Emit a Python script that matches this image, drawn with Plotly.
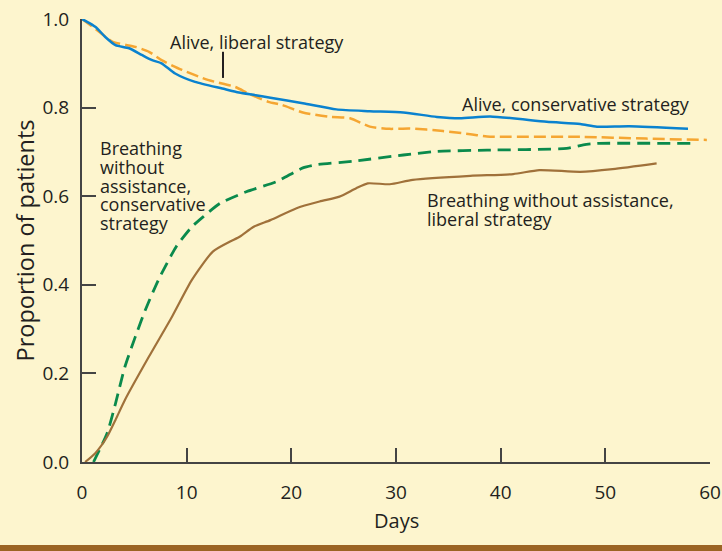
import plotly.graph_objects as go

# ---- data ----
alive_cons_x = [0, 1.3, 2.2, 3.2, 4.5, 5.7, 6.7, 7.6, 8.9, 10.8, 13.4, 15.0, 16.6, 18.0, 21.1, 24.3,
                27.5, 30.7, 33.9, 36.1, 39.0, 44.4, 47.6, 49.2, 52.3, 57.9]
alive_cons_y = [1.0, 0.982, 0.960, 0.941, 0.934, 0.919, 0.907, 0.900, 0.877, 0.858, 0.843, 0.834, 0.828, 0.822,
                0.810, 0.796, 0.792, 0.789, 0.779, 0.776, 0.780, 0.768, 0.763, 0.757, 0.758, 0.752]

alive_lib_x = [0, 1.6, 2.9, 5.1, 6.4, 7.6, 9.55, 12.1, 14.6, 15.9, 17.8, 19.1, 21.1, 23.7, 25.6, 27.5,
               29.4, 31.3, 34.5, 37.1, 38.7, 47.6, 53.9, 59.7]
alive_lib_y = [1.0, 0.972, 0.949, 0.937, 0.926, 0.907, 0.885, 0.862, 0.847, 0.832, 0.813, 0.806, 0.789,
               0.779, 0.776, 0.757, 0.752, 0.753, 0.747, 0.740, 0.735, 0.734, 0.730, 0.727]

breath_cons_x = [1.1, 2.4, 3.2, 4.1, 5.1, 6.05, 7.3, 9.0, 10.5, 11.6, 13.2, 15.7, 18.6, 21.1, 22.4, 25.9,
                 30.7, 33.9, 38.7, 46.3, 47.9, 49.2, 58.4]
breath_cons_y = [0.0, 0.065, 0.132, 0.215, 0.283, 0.343, 0.411, 0.486, 0.531, 0.554, 0.584, 0.610, 0.633,
                 0.664, 0.671, 0.679, 0.693, 0.701, 0.704, 0.708, 0.716, 0.719, 0.719]

breath_lib_x = [0.3, 1.27, 2.4, 3.2, 4.1, 6.4, 8.6, 10.5, 12.5, 14.1, 15.1, 16.4, 18.0, 20.5, 22.7, 24.6,
                26.2, 27.3, 29.4, 31.6, 37.1, 41.2, 43.7, 47.6, 50.7, 54.9]
breath_lib_y = [0.0, 0.020, 0.057, 0.095, 0.140, 0.238, 0.328, 0.411, 0.475, 0.497, 0.509, 0.531, 0.546,
                0.573, 0.588, 0.599, 0.618, 0.629, 0.627, 0.637, 0.646, 0.650, 0.659, 0.655, 0.661, 0.674]

x_ticks = [0, 10, 20, 30, 40, 50, 60]
y_ticks = [0.0, 0.2, 0.4, 0.6, 0.8, 1.0]
y_tick_labels = ["0.0", "0.2", "0.4", "0.6", "0.8", "1.0"]

# curve labels: list of lines, anchor (left edge, first-line centre) in data units
label_lines = [
    ["Alive, liberal strategy"],
    ["Alive, conservative strategy"],
    ["Breathing", "without", "assistance,", "conservative", "strategy"],
    ["Breathing without assistance,", "liberal strategy"],
]
label_x = [8.2, 36.1, 1.5, 32.8]
label_y = [0.948, 0.808, 0.708, 0.591]
LINE_GAP = 18.6  # px between lines

BG = "#FDF5CE"
TXT = "#231F20"
FONT = "Open Sans"

fig = go.Figure()
fig.add_trace(go.Scatter(x=alive_lib_x, y=alive_lib_y, mode="lines",
                         line=dict(color="#F5A632", width=2.5, dash="12px,5px", shape="spline", smoothing=0.6),
                         name="Alive, liberal strategy"))
fig.add_trace(go.Scatter(x=alive_cons_x, y=alive_cons_y, mode="lines",
                         line=dict(color="#0A82CF", width=2.5, shape="spline", smoothing=0.6),
                         name="Alive, conservative strategy"))
fig.add_trace(go.Scatter(x=breath_cons_x, y=breath_cons_y, mode="lines",
                         line=dict(color="#0A8A4C", width=2.8, dash="13px,7px", shape="spline", smoothing=0.6),
                         name="Breathing without assistance, conservative strategy"))
fig.add_trace(go.Scatter(x=breath_lib_x, y=breath_lib_y, mode="lines",
                         line=dict(color="#A0713A", width=2.2, shape="spline", smoothing=0.6),
                         name="Breathing without assistance, liberal strategy"))

for lines, xx, yy in zip(label_lines, label_x, label_y):
    for i, t in enumerate(lines):
        fig.add_annotation(x=xx, y=yy, yshift=-i * LINE_GAP, text=t, showarrow=False,
                           xanchor="left", yanchor="middle", align="left",
                           font=dict(family=FONT, size=18, color=TXT))

# leader line for "Alive, liberal strategy"
fig.add_shape(type="line", x0=13.47, x1=13.47, y0=0.867, y1=0.926,
              line=dict(color="#231F20", width=2))

# bottom brown band
fig.add_shape(type="rect", xref="paper", yref="paper", x0=-0.2, x1=1.2, y0=-0.2015, y1=-0.1875,
              line=dict(width=0), fillcolor="#9B6424", layer="above")

# axis titles
fig.add_annotation(xref="paper", yref="paper", x=0.5, y=0, yshift=-58, text="Days", showarrow=False,
                   xanchor="center", yanchor="middle", font=dict(family=FONT, size=20, color=TXT))
fig.add_annotation(xref="paper", yref="paper", x=0, y=0.5, xshift=-58, text="Proportion of patients",
                   showarrow=False, textangle=-90, xanchor="center", yanchor="middle",
                   font=dict(family=FONT, size=23.5, color=TXT))

fig.update_layout(
    width=722, height=551,
    margin=dict(l=82, r=12, t=19, b=89),
    paper_bgcolor=BG, plot_bgcolor=BG,
    showlegend=False,
    font=dict(family=FONT, color=TXT),
)
fig.update_xaxes(range=[0, 60], tickvals=x_ticks, ticks="inside", ticklen=14, tickwidth=1.5,
                 tickcolor="#444", showline=True, linecolor="#444", linewidth=2, showgrid=False,
                 zeroline=False, tickfont=dict(family=FONT, size=19, color=TXT), ticklabelstandoff=12,
                 automargin=False)
fig.update_yaxes(range=[0, 1], tickvals=y_ticks, ticktext=y_tick_labels, ticks="inside", ticklen=14,
                 tickwidth=1.5, tickcolor="#444", showline=True, linecolor="#444", linewidth=2,
                 showgrid=False, zeroline=False, tickfont=dict(family=FONT, size=19, color=TXT),
                 ticklabelstandoff=7, automargin=False)

fig.write_html("out.html", config={"displayModeBar": False},
               post_script="document.body.style.margin='0';document.body.style.background='#FDF5CE';")
